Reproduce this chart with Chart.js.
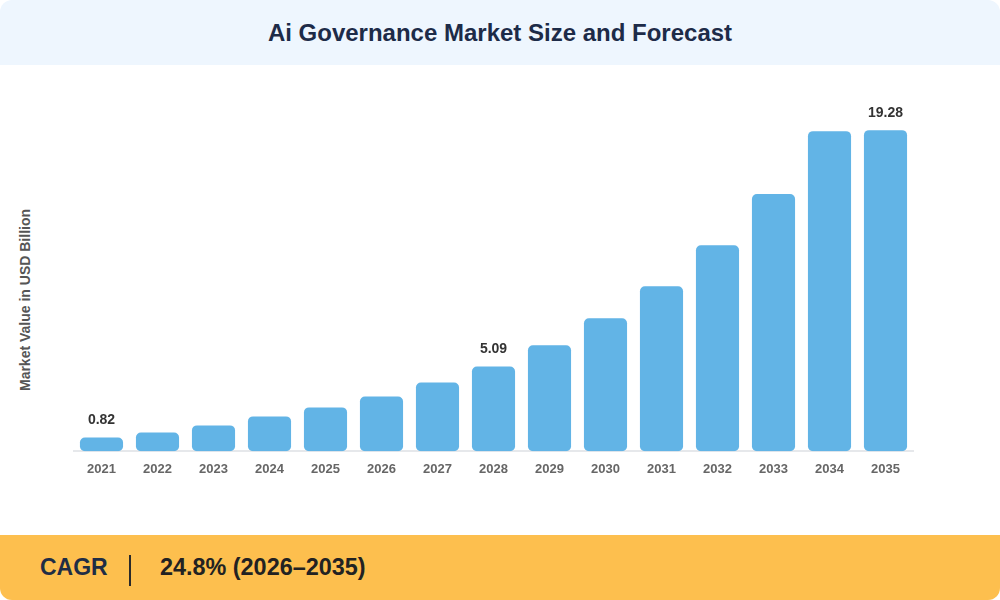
<!DOCTYPE html>
<html><head><meta charset="utf-8">
<script src="https://cdn.jsdelivr.net/npm/chart.js@4.4.0/dist/chart.umd.min.js"></script>
<style>
html,body{margin:0;padding:0;background:#fff;}
#wrap{position:relative;width:1000px;height:600px;overflow:hidden;font-family:"Liberation Sans",Arial,sans-serif;}
#head{position:absolute;left:0;top:0;width:1000px;height:65px;background:#eef6fe;border-radius:12px 12px 0 0;}
#title{position:absolute;left:0;top:0;width:1000px;height:65px;line-height:66px;text-align:center;font-weight:bold;font-size:24px;color:#1d2b48;}
#foot{position:absolute;left:0;top:535px;width:1000px;height:65px;background:#fdbf4e;border-radius:0 0 12px 12px;}
#cagr{position:absolute;left:40px;top:0;height:65px;line-height:65px;font-weight:bold;font-size:23px;color:#1f2d45;}
#divider{position:absolute;left:129px;top:20px;width:2px;height:31px;background:#2a2a2a;}
#cagrval{position:absolute;left:160px;top:0;height:65px;line-height:65px;font-weight:bold;font-size:23.4px;color:#222;}
#ytitle{position:absolute;left:25px;top:300px;transform:translate(-50%,-50%) rotate(-90deg);white-space:nowrap;font-weight:bold;font-size:14px;color:#555;}
#c{position:absolute;left:0;top:0;}
</style></head>
<body>
<div id="wrap">
  <div id="head"></div>
  <div id="title">Ai Governance Market Size and Forecast</div>
  <div id="foot">
    <div id="cagr">CAGR</div>
    <div id="divider"></div>
    <div id="cagrval">24.8% (2026–2035)</div>
  </div>
  <div id="ytitle">Market Value in USD Billion</div>
  <canvas id="c" width="1000" height="600"></canvas>
</div>
<script>
const years = ["2021","2022","2023","2024","2025","2026","2027","2028","2029","2030","2031","2032","2033","2034","2035"];
const marketValues = [0.82, 1.12, 1.55, 2.09, 2.63, 3.29, 4.13, 5.09, 6.36, 7.98, 9.90, 12.37, 15.44, 19.22, 19.28];
const labelledYears = ["2021","2028","2035"];

const valueLabels = {
  id: 'valueLabels',
  afterDatasetsDraw(chart) {
    const ctx = chart.ctx;
    const meta = chart.getDatasetMeta(0);
    ctx.save();
    ctx.font = 'bold 14px "Liberation Sans", Arial, sans-serif';
    ctx.fillStyle = '#333333';
    ctx.textAlign = 'center';
    ctx.textBaseline = 'middle';
    meta.data.forEach((bar, i) => {
      if (labelledYears.includes(years[i])) {
        ctx.fillText(marketValues[i].toFixed(2), bar.x, bar.y - 17);
      }
    });
    ctx.restore();
  }
};

new Chart(document.getElementById('c'), {
  type: 'bar',
  data: {
    labels: years,
    datasets: [{
      data: marketValues,
      backgroundColor: '#62b4e6',
      borderRadius: 5,
      borderSkipped: false,
      categoryPercentage: 1,
      barPercentage: 0.77
    }]
  },
  options: {
    responsive: false,
    animation: false,
    devicePixelRatio: 1,
    layout: { padding: { left: 73.5, right: 86.5, top: 101.5, bottom: 113.2 } },
    plugins: { legend: { display: false }, tooltip: { enabled: false } },
    scales: {
      x: {
        grid: { display: false, drawTicks: false },
        border: { display: true, color: '#e6e8eb', width: 2 },
        ticks: { color: '#666666', padding: 10, font: { family: '"Liberation Sans", Arial, sans-serif', size: 13, weight: 'bold' } }
      },
      y: {
        display: false,
        min: 0,
        max: 21
      }
    }
  },
  plugins: [valueLabels]
});
</script>
</body></html>
